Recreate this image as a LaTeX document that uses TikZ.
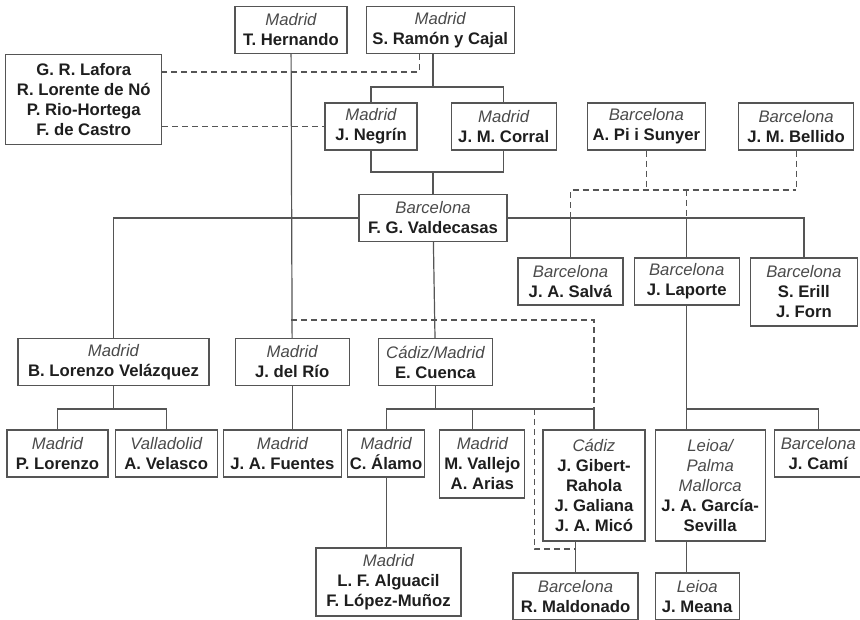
\documentclass[tikz,border=0pt]{standalone}
\usepackage{fontspec}
\setmainfont{Liberation Sans}
\usepackage{xcolor}
\usetikzlibrary{positioning}

\definecolor{linegray}{HTML}{555555}
\definecolor{namegray}{HTML}{1E1E1E}
\definecolor{citygray}{HTML}{4A4A4A}
\newcommand{\cityname}[1]{{\mdseries\itshape\color{citygray}#1}}

\begin{document}
\begin{tikzpicture}[
    x=1pt, y=-1pt,
    box/.style={draw=linegray, line width=1.2pt, align=center, inner sep=2pt,
        text=namegray, font=\fontsize{16.7}{20}\selectfont\bfseries, minimum height=47pt},
    link/.style={draw=linegray, line width=1.2pt},
    tie/.style={link, dash pattern=on 6pt off 4pt}
]
\useasboundingbox (0,0) rectangle (860,620);

% first row
\node[box, minimum width=112pt] (hernando) at (291,30) {\cityname{Madrid}\\T. Hernando};
\node[box, minimum width=148pt, right=18pt of hernando] (cajal) {\cityname{Madrid}\\S. Ramón y Cajal};
\node[box, minimum width=156pt, minimum height=90pt, left=72pt of hernando.south west, anchor=north east] (lafora)
    {G. R. Lafora\\R. Lorente de Nó\\P. Rio-Hortega\\F. de Castro};

% second row
\node[box, minimum width=92pt] (negrin) at (371,126.5) {\cityname{Madrid}\\J. Negrín};
\node[box, minimum width=105pt, right=33pt of negrin] (corral) {\cityname{Madrid}\\J. M. Corral};
\node[box, minimum width=118pt, right=30pt of corral] (pisunyer) {\cityname{Barcelona}\\A. Pi i Sunyer};
\node[box, minimum width=115pt, right=32pt of pisunyer] (bellido) {\cityname{Barcelona}\\J. M. Bellido};

\node[box, minimum width=148pt] (valdecasas) at (433,218) {\cityname{Barcelona}\\F. G. Valdecasas};

\node[box, minimum width=105pt] (salva) at (570.5,281.5) {\cityname{Barcelona}\\J. A. Salvá};
\node[box, minimum width=105pt, right=10pt of salva.north east, anchor=north west] (laporte) {\cityname{Barcelona}\\J. Laporte};
\node[box, minimum width=107pt, minimum height=68pt, right=10pt of laporte.north east, anchor=north west] (erill)
    {\cityname{Barcelona}\\S. Erill\\J. Forn};

% third generation
\node[box, minimum width=191pt] (velazquez) at (113.5,362) {\cityname{Madrid}\\B. Lorenzo Velázquez};
\node[box, minimum width=114pt, right=25pt of velazquez] (delrio) {\cityname{Madrid}\\J. del Río};
\node[box, minimum width=114pt, right=28pt of delrio] (cuenca) {\cityname{Cádiz/Madrid}\\E. Cuenca};

\node[box, minimum width=101pt] (plorenzo) at (57.5,453.5) {\cityname{Madrid}\\P. Lorenzo};
\node[box, minimum width=102pt, right=6pt of plorenzo.north east, anchor=north west] (velasco) {\cityname{Valladolid}\\A. Velasco};
\node[box, minimum width=118pt, right=5pt of velasco.north east, anchor=north west] (fuentes) {\cityname{Madrid}\\J. A. Fuentes};
\node[box, minimum width=77pt, right=5pt of fuentes.north east, anchor=north west] (alamo) {\cityname{Madrid}\\C. Álamo};
\node[box, minimum width=85pt, minimum height=68pt, right=14pt of alamo.north east, anchor=north west] (vallejo)
    {\cityname{Madrid}\\M. Vallejo\\A. Arias};
\node[box, minimum width=102pt, minimum height=111pt, right=17pt of vallejo.north east, anchor=north west] (gibert)
    {\cityname{Cádiz}\\J. Gibert-\\Rahola\\J. Galiana\\J. A. Micó};
\node[box, minimum width=110pt, minimum height=111pt, right=9pt of gibert.north east, anchor=north west] (garcia)
    {\cityname{Leioa/}\\\cityname{Palma}\\\cityname{Mallorca}\\J. A. García-\\Sevilla};
\node[box, minimum width=88pt, right=8pt of garcia.north east, anchor=north west] (cami) {\cityname{Barcelona}\\J. Camí};

\node[box, minimum width=145pt, minimum height=68pt] (alguacil) at (388.5,582) {\cityname{Madrid}\\L. F. Alguacil\\F. López-Muñoz};
\node[box, minimum width=125pt] (maldonado) at (575.5,596.5) {\cityname{Barcelona}\\R. Maldonado};
\node[box, minimum width=84pt, right=16pt of maldonado] (meana) {\cityname{Leioa}\\J. Meana};

\coordinate (cajalbar) at (0,72);
\coordinate (topbar) at (0,87);
\coordinate (midbar) at (0,172);
\coordinate (dashbar) at (0,190);
\coordinate (riobar) at (0,320);
\coordinate (lowbar) at (0,409);
\coordinate (maldbar) at (0,549);
\coordinate (micoleft) at ([xshift=-8pt]gibert.north west);

% solid lines
\draw[link] (hernando) -- (delrio);
\draw[link] (delrio) -- (delrio |- fuentes.north);
\draw[link] (valdecasas |- cajal.south) -- (valdecasas |- topbar);
\draw[link] (negrin) |- (topbar -| corral) -- (corral);
\draw[link] (negrin) |- (midbar -| corral) -- (corral);
\draw[link] (valdecasas |- midbar) -- (valdecasas);
\draw[link] (valdecasas) -| (velazquez);
\draw[link] (valdecasas) -| (erill);
\draw[link] (salva) -- (salva |- valdecasas);
\draw[link] (laporte) -- (laporte |- valdecasas);
\draw[link] (valdecasas) -- (cuenca);
\draw[link] (velazquez) -- (velazquez |- lowbar);
\draw[link] (plorenzo) |- (lowbar -| velasco) -- (velasco);
\draw[link] (cuenca) -- (cuenca |- lowbar);
\draw[link] (alamo) |- (lowbar -| gibert) -- (gibert);
\draw[link] ([xshift=-10pt]vallejo.north) -- ([xshift=-10pt]vallejo.north |- lowbar);
\draw[link] (alamo) -- (alamo |- alguacil.north);
\draw[link] (maldonado) -- (maldonado |- gibert.south);
\draw[link] (laporte) -- (laporte |- garcia.north);
\draw[link] (laporte |- lowbar) -| (cami);
\draw[link] (laporte |- garcia.south) -- (laporte |- meana.north);

% dashed lines
\draw[tie] ([xshift=-21pt]cajal.south) |- (lafora.east |- cajalbar);
\draw[tie] (lafora.east |- negrin) -- (negrin);
\draw[tie] (pisunyer) -- (pisunyer |- dashbar);
\draw[tie] (bellido) -- (bellido |- dashbar);
\draw[tie] (salva |- valdecasas) -- (salva |- dashbar) -- (bellido |- dashbar);
\draw[tie] (laporte |- dashbar) -- (laporte |- valdecasas);
\draw[tie] (hernando |- riobar) -| (gibert |- lowbar);
\draw[tie] (micoleft |- lowbar) |- (maldonado |- maldbar);
\end{tikzpicture}
\end{document}
